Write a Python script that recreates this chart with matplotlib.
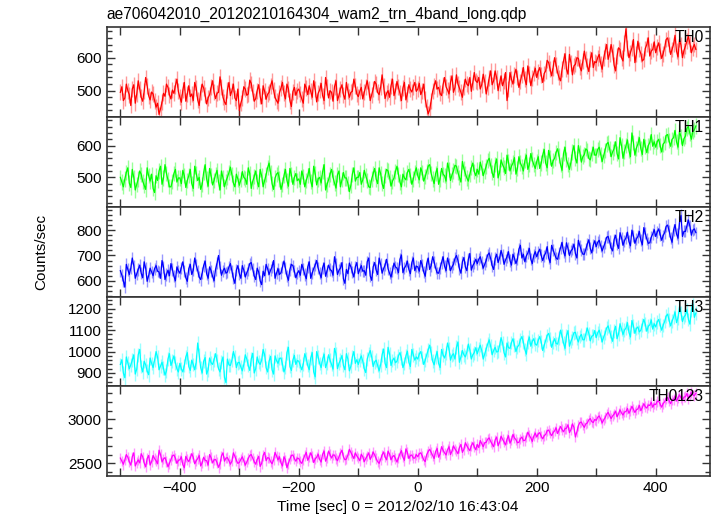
import numpy as np
import matplotlib
matplotlib.use("Agg")
import matplotlib.pyplot as plt
from matplotlib.ticker import MultipleLocator

plt.rcParams['font.family'] = ['Liberation Sans', 'DejaVu Sans']

title = "ae706042010_20120210164304_wam2_trn_4band_long.qdp"
xlabel = "Time [sec] 0 = 2012/02/10 16:43:04"
ylabel = "Counts/sec"
band_names = ["TH0", "TH1", "TH2", "TH3", "TH0123"]

t_first = -500.0
t_last = 467.5

th0 = [
    495, 512, 470, 478, 520, 500, 488, 455, 505, 518, 462, 490, 530, 505, 480, 468, 498, 540, 515, 485,
    472, 496, 490, 470, 450, 462, 428, 445, 465, 492, 483, 520, 510, 488, 475, 502, 492, 515, 535, 498,
    480, 465, 502, 525, 468, 490, 515, 482, 490, 470, 525, 508, 472, 455, 497, 520, 508, 486, 460, 478,
    488, 510, 530, 495, 476, 492, 495, 542, 512, 480, 466, 458, 503, 525, 485, 500, 520, 478, 470, 505,
    440, 462, 478, 512, 505, 486, 490, 532, 522, 495, 468, 476, 500, 518, 483, 460, 515, 498, 474, 489,
    495, 515, 530, 502, 480, 470, 462, 494, 508, 525, 492, 475, 520, 506, 470, 452, 497, 510, 486, 500,
    505, 490, 475, 462, 520, 508, 488, 515, 498, 480, 530, 505, 466, 492, 502, 522, 485, 470, 540, 510,
    478, 500, 495, 468, 512, 530, 470, 486, 505, 518, 488, 474, 525, 500, 480, 495, 498, 535, 515, 490,
    482, 498, 510, 475, 495, 512, 530, 505, 470, 488, 505, 528, 520, 495, 488, 510, 548, 515, 476, 492,
    500, 480, 515, 535, 485, 500, 528, 510, 492, 470, 508, 525, 472, 490, 518, 504, 496, 512, 525, 498,
    505, 522, 488, 500, 520, 475, 450, 430, 442, 470, 498, 515, 530, 505, 510, 492, 485, 518, 540, 512,
    502, 490, 525, 545, 495, 510, 548, 520, 508, 495, 480, 512, 535, 520, 515, 540, 498, 525, 555, 530,
    525, 540, 505, 518, 550, 528, 490, 512, 538, 560, 518, 530, 560, 540, 500, 522, 545, 515, 530, 555,
    470, 505, 555, 535, 520, 548, 565, 540, 510, 528, 548, 570, 535, 518, 575, 550, 515, 538, 552, 568,
    540, 558, 570, 548, 525, 552, 560, 592, 585, 565, 545, 570, 600, 578, 555, 540, 530, 565, 590, 612,
    565, 550, 610, 585, 548, 575, 580, 600, 598, 572, 560, 590, 620, 595, 575, 558, 595, 615, 570, 588,
    585, 600, 610, 582, 565, 598, 620, 640, 595, 612, 640, 618, 578, 560, 605, 630, 625, 600, 590, 645,
    688, 630, 600, 615, 630, 655, 585, 610, 650, 625, 612, 590, 595, 628, 640, 660, 605, 620, 625, 648,
    615, 632, 645, 620, 598, 612, 630, 655, 660, 640, 610, 625, 640, 668, 620, 602, 655, 638, 600, 622,
    635, 650, 665, 642, 615, 630, 640, 625,
]
th1 = [
    500, 485, 470, 495, 515, 530, 482, 468, 525, 500, 460, 478, 495, 520, 510, 488, 475, 462, 530, 505,
    488, 510, 465, 452, 505, 490, 520, 535, 478, 498, 540, 512, 492, 470, 470, 488, 512, 525, 485, 498,
    498, 480, 522, 505, 468, 490, 505, 525, 480, 465, 535, 512, 490, 500, 462, 478, 515, 540, 495, 472,
    528, 505, 476, 490, 508, 522, 485, 460, 520, 498, 470, 488, 500, 515, 532, 508, 482, 470, 510, 495,
    475, 492, 518, 500, 495, 478, 530, 512, 465, 488, 502, 520, 488, 470, 525, 505, 470, 490, 508, 530,
    545, 515, 480, 462, 498, 510, 515, 495, 462, 478, 505, 525, 490, 472, 528, 508, 478, 500, 512, 490,
    495, 478, 520, 502, 470, 490, 505, 528, 488, 470, 535, 512, 476, 495, 500, 482, 518, 540, 460, 478,
    492, 510, 525, 500, 482, 466, 508, 520, 470, 492, 515, 498, 498, 480, 455, 475, 510, 530, 488, 500,
    500, 515, 478, 492, 522, 505, 490, 470, 468, 495, 512, 528, 495, 480, 530, 512, 480, 465, 505, 525,
    520, 500, 472, 488, 498, 518, 535, 510, 485, 470, 510, 498, 492, 515, 525, 505, 478, 495, 515, 530,
    505, 492, 530, 515, 488, 502, 518, 535, 540, 512, 495, 480, 512, 528, 478, 495, 528, 510, 505, 488,
    545, 525, 490, 508, 520, 538, 535, 515, 500, 485, 550, 528, 512, 498, 488, 510, 530, 545, 518, 505,
    525, 510, 548, 530, 505, 520, 535, 552, 560, 538, 515, 500, 540, 558, 498, 515, 555, 540, 530, 512,
    570, 548, 520, 535, 545, 562, 510, 528, 565, 545, 535, 520, 552, 570, 525, 540, 575, 555, 540, 528,
    550, 565, 528, 545, 570, 588, 545, 530, 585, 562, 535, 552, 560, 578, 590, 568, 540, 522, 575, 595,
    555, 540, 525, 548, 580, 600, 560, 545, 600, 578, 548, 565, 572, 590, 585, 560, 555, 575, 595, 570,
    570, 588, 595, 572, 550, 568, 585, 605, 610, 590, 565, 580, 590, 612, 575, 558, 625, 600, 560, 582,
    600, 618, 585, 565, 640, 610, 570, 592, 605, 625, 590, 572, 620, 598, 578, 600, 610, 635, 598, 612,
    595, 612, 620, 600, 580, 605, 610, 632, 635, 615, 598, 620, 625, 648, 612, 595, 645, 628, 600, 622,
    630, 655, 660, 638, 620, 645, 650, 662,
]
th2 = [
    640, 622, 600, 575, 665, 645, 625, 650, 690, 660, 610, 628, 645, 662, 630, 612, 675, 650, 598, 620,
    650, 635, 620, 648, 660, 638, 635, 610, 680, 655, 605, 625, 642, 620, 668, 645, 618, 600, 655, 640,
    630, 652, 675, 640, 612, 598, 648, 665, 625, 642, 690, 662, 640, 615, 605, 630, 660, 678, 628, 610,
    655, 640, 618, 600, 645, 670, 700, 655, 622, 640, 650, 630, 635, 655, 668, 640, 610, 590, 642, 660,
    628, 610, 660, 642, 615, 632, 645, 668, 672, 645, 620, 605, 650, 635, 600, 585, 638, 620, 665, 648,
    625, 642, 655, 680, 610, 630, 648, 625, 632, 655, 678, 650, 620, 602, 645, 665, 660, 638, 612, 630,
    640, 622, 665, 648, 625, 608, 655, 675, 610, 630, 648, 662, 680, 650, 630, 612, 652, 670, 618, 640,
    662, 645, 640, 622, 695, 665, 625, 642, 650, 672, 608, 590, 645, 628, 670, 655, 635, 615, 655, 672,
    628, 645, 660, 638, 640, 622, 675, 690, 620, 602, 655, 672, 642, 625, 690, 665, 630, 648, 662, 685,
    648, 630, 615, 640, 670, 655, 650, 632, 685, 702, 632, 650, 660, 678, 645, 628, 672, 690, 640, 658,
    655, 638, 680, 662, 635, 618, 668, 690, 645, 660, 695, 675, 650, 632, 630, 650, 672, 695, 658, 640,
    690, 668, 640, 655, 665, 688, 700, 680, 648, 630, 675, 692, 655, 640, 685, 708, 642, 660, 670, 685,
    668, 685, 695, 672, 650, 665, 680, 702, 710, 688, 660, 645, 688, 705, 672, 690, 720, 700, 665, 682,
    695, 715, 680, 662, 705, 690, 668, 685, 725, 740, 690, 705, 675, 698, 710, 728, 685, 668, 700, 715,
    695, 712, 725, 700, 680, 698, 710, 735, 690, 672, 740, 722, 705, 690, 685, 710, 730, 752, 715, 698,
    750, 728, 700, 718, 725, 745, 708, 690, 760, 738, 720, 705, 705, 725, 745, 762, 728, 710, 740, 758,
    735, 752, 760, 738, 718, 735, 750, 772, 775, 755, 730, 718, 762, 780, 745, 728, 790, 770, 740, 758,
    770, 792, 755, 738, 800, 778, 748, 765, 775, 795, 760, 742, 810, 788, 765, 748, 750, 772, 785, 802,
    775, 792, 805, 782, 760, 778, 790, 815, 820, 798, 770, 752, 800, 822, 785, 768, 830, 858, 775, 795,
    795, 818, 840, 815, 780, 800, 805, 790,
]
th3 = [
    940, 962, 900, 878, 975, 948, 920, 938, 960, 985, 895, 918, 985, 1010, 930, 905, 955, 938, 910, 892,
    970, 945, 925, 960, 1000, 975, 915, 932, 950, 922, 890, 910, 965, 990, 935, 955, 980, 948, 920, 905,
    945, 920, 905, 935, 975, 995, 930, 912, 960, 940, 915, 950, 1040, 985, 925, 900, 955, 972, 895, 915,
    970, 948, 940, 962, 990, 958, 920, 905, 950, 975, 880, 855, 965, 938, 935, 960, 1000, 975, 925, 948,
    950, 928, 910, 940, 985, 965, 935, 912, 965, 992, 900, 920, 975, 950, 940, 960, 1010, 985, 925, 905,
    955, 978, 915, 895, 980, 958, 945, 968, 970, 942, 905, 925, 995, 1020, 930, 912, 960, 982, 940, 958,
    955, 935, 915, 942, 990, 968, 935, 915, 970, 995, 905, 882, 1000, 975, 945, 925, 965, 988, 925, 948,
    985, 960, 940, 918, 1015, 990, 920, 945, 960, 982, 935, 915, 990, 965, 910, 932, 975, 1000, 945, 962,
    940, 962, 980, 955, 920, 902, 965, 988, 1005, 975, 930, 952, 960, 935, 910, 938, 985, 1012, 945, 925,
    1020, 990, 935, 958, 970, 948, 955, 980, 995, 970, 925, 945, 980, 1002, 950, 930, 1010, 985, 960, 975,
    965, 988, 1000, 972, 940, 960, 985, 1008, 1030, 995, 955, 938, 975, 1000, 945, 925, 1010, 985, 970, 992,
    1040, 1012, 960, 982, 990, 965, 1020, 1045, 950, 975, 1005, 985, 975, 998, 1035, 1008, 965, 985, 995, 1018,
    990, 1012, 1030, 1005, 965, 988, 1010, 1035, 1055, 1025, 985, 1005, 1020, 998, 1000, 1028, 1065, 1040, 995, 975,
    1040, 1018, 1015, 1042, 1060, 1032, 1000, 1022, 1030, 1055, 1070, 1045, 1010, 988, 1045, 1068, 1025, 1048, 1060, 1035,
    1030, 1052, 1070, 1045, 1005, 1028, 1050, 1075, 1085, 1058, 1020, 1042, 1060, 1038, 1035, 1062, 1100, 1072, 1040, 1015,
    1075, 1098, 1025, 1048, 1065, 1088, 1090, 1062, 1045, 1070, 1080, 1055, 1055, 1082, 1110, 1085, 1050, 1072, 1075, 1098,
    1065, 1088, 1100, 1075, 1045, 1068, 1085, 1110, 1120, 1095, 1070, 1048, 1095, 1118, 1060, 1082, 1130, 1105, 1080, 1100,
    1110, 1135, 1090, 1068, 1145, 1120, 1085, 1108, 1115, 1092, 1100, 1125, 1150, 1128, 1095, 1118, 1125, 1148, 1105, 1130,
    1115, 1138, 1150, 1125, 1100, 1122, 1140, 1165, 1175, 1148, 1120, 1142, 1160, 1185, 1135, 1158, 1210, 1180, 1140, 1162,
    1170, 1195, 1150, 1128, 1195, 1220, 1160, 1180,
]
th0123 = [
    2560, 2525, 2490, 2540, 2600, 2570, 2520, 2480, 2575, 2620, 2470, 2510, 2540, 2505, 2610, 2575, 2505, 2460, 2555, 2590,
    2480, 2520, 2590, 2555, 2530, 2495, 2650, 2600, 2515, 2550, 2565, 2520, 2460, 2500, 2545, 2585, 2595, 2560, 2500, 2535,
    2540, 2575, 2485, 2450, 2580, 2545, 2520, 2560, 2610, 2570, 2495, 2530, 2555, 2590, 2470, 2505, 2570, 2535, 2530, 2480,
    2600, 2565, 2505, 2540, 2545, 2510, 2455, 2495, 2585, 2620, 2525, 2560, 2565, 2530, 2490, 2525, 2620, 2580, 2535, 2500,
    2510, 2545, 2575, 2530, 2480, 2515, 2555, 2590, 2600, 2560, 2520, 2490, 2545, 2580, 2465, 2500, 2590, 2625, 2530, 2565,
    2560, 2520, 2495, 2540, 2625, 2585, 2540, 2575, 2505, 2470, 2575, 2540, 2450, 2500, 2550, 2590, 2595, 2555, 2525, 2560,
    2555, 2520, 2500, 2545, 2590, 2625, 2535, 2570, 2620, 2580, 2510, 2550, 2570, 2605, 2545, 2515, 2605, 2640, 2525, 2565,
    2640, 2600, 2560, 2595, 2595, 2555, 2530, 2575, 2615, 2650, 2575, 2540, 2550, 2595, 2660, 2625, 2590, 2555, 2620, 2585,
    2560, 2530, 2605, 2575, 2520, 2555, 2585, 2620, 2545, 2580, 2630, 2595, 2555, 2520, 2500, 2545, 2595, 2630, 2575, 2540,
    2640, 2605, 2540, 2575, 2590, 2555, 2515, 2560, 2610, 2645, 2570, 2535, 2665, 2625, 2555, 2590, 2595, 2560, 2560, 2600,
    2575, 2610, 2620, 2585, 2540, 2520, 2600, 2635, 2660, 2625, 2590, 2555, 2635, 2670, 2570, 2605, 2690, 2650, 2620, 2595,
    2655, 2690, 2600, 2640, 2700, 2665, 2640, 2610, 2680, 2715, 2625, 2660, 2735, 2700, 2670, 2645, 2700, 2735, 2690, 2655,
    2715, 2680, 2760, 2725, 2690, 2735, 2740, 2775, 2790, 2750, 2720, 2690, 2765, 2800, 2700, 2740, 2810, 2775, 2745, 2710,
    2775, 2815, 2730, 2765, 2830, 2790, 2770, 2735, 2740, 2780, 2800, 2760, 2760, 2800, 2855, 2820, 2790, 2750, 2810, 2845,
    2800, 2835, 2850, 2810, 2780, 2815, 2830, 2870, 2880, 2845, 2815, 2850, 2870, 2905, 2840, 2880, 2920, 2885, 2860, 2895,
    2900, 2940, 2850, 2885, 2950, 2910, 2800, 2860, 2930, 2965, 2970, 2935, 2910, 2950, 2960, 2995, 3010, 2975, 2965, 3000,
    2990, 3025, 3040, 3005, 2960, 2995, 3020, 3060, 3080, 3045, 3010, 3040, 3060, 3095, 3030, 3065, 3110, 3075, 3050, 3085,
    3090, 3125, 3070, 3105, 3150, 3115, 3080, 3110, 3120, 3160, 3100, 3135, 3180, 3145, 3130, 3165, 3160, 3195, 3140, 3175,
    3170, 3205, 3210, 3175, 3140, 3180, 3200, 3240, 3250, 3215, 3180, 3220, 3230, 3265, 3210, 3245, 3280, 3245, 3220, 3255,
    3260, 3295, 3240, 3275, 3310, 3280, 3270, 3300,
]
errors = [24, 24, 24, 32, 60]

series = [th0, th1, th2, th3, th0123]
colors = ["#ff0000", "#00ff00", "#0000ff", "#00ffff", "#ff00ff"]
ylims = [(420, 692), (407, 690), (538, 892), (838, 1257), (2356, 3378)]
ymajor = [100, 100, 100, 100, 500]
yminor = [20, 20, 20, 20, 100]

fig = plt.figure(figsize=(7.17, 5.16), dpi=100)
left, right, top, bottom = 0.1488, 0.990, 0.947, 0.0775
h = (top - bottom) / 5
axes = []
for i in range(5):
    ax = fig.add_axes([left, top - (i + 1) * h, right - left, h])
    axes.append(ax)

for i, ax in enumerate(axes):
    y = np.array(series[i], dtype=float)
    t = np.linspace(t_first, t_last, len(y))
    ax.errorbar(t, y, yerr=errors[i], fmt='none', ecolor=colors[i], alpha=0.4,
                elinewidth=1.0, capsize=0)
    ax.plot(t, y, color=colors[i], lw=0.9)
    ax.set_xlim(-523, 491)
    ax.set_ylim(*ylims[i])
    ax.xaxis.set_major_locator(MultipleLocator(200))
    ax.xaxis.set_minor_locator(MultipleLocator(100))
    ax.yaxis.set_major_locator(MultipleLocator(ymajor[i]))
    ax.yaxis.set_minor_locator(MultipleLocator(yminor[i]))
    ax.tick_params(which='both', direction='in', top=True, right=True,
                   labelsize=11, color='#333333', width=1.0)
    ax.tick_params(which='major', length=6)
    ax.tick_params(which='minor', length=3.5)
    ax.tick_params(axis='x', which='minor', length=6)
    for s in ax.spines.values():
        s.set_color('#333333')
        s.set_linewidth(1.2)
    if i < 4:
        ax.tick_params(labelbottom=False)
    ax.text(0.990, 1 - 10.5 / (h * 516), band_names[i], transform=ax.transAxes,
            ha='right', va='center', fontsize=11.2, color='black')

fig.text(398 / 717, 0.018, xlabel, ha='center', va='center', fontsize=11.1)
fig.text(0.057, (top + bottom) / 2, ylabel, rotation=90, ha='center', va='center', fontsize=11)
fig.text(left, 0.972, title, ha='left', va='center', fontsize=11.2)

fig.savefig("out.png", dpi=100)
